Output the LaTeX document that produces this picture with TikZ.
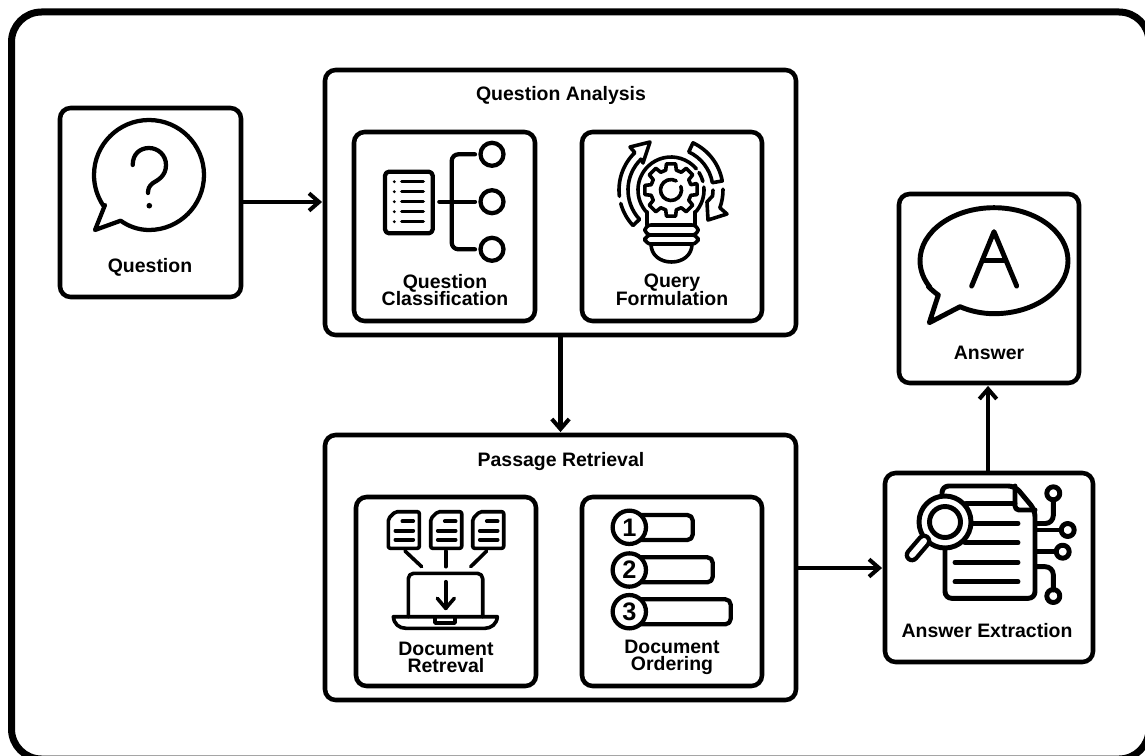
\documentclass[tikz,border=0pt]{standalone}
\usepackage{fontspec}
\setmainfont{Liberation Sans}
\usetikzlibrary{arrows.meta}
\newcommand{\tightlines}{\lineskiplimit=-20pt\relax}
\tikzset{
  x=0.75pt,y=-0.75pt,
  box/.style={draw=black,line width=3.4pt,rounded corners=8pt,fill=white,inner sep=0pt},
  frame/.style={draw=black,line width=5.25pt,rounded corners=22.5pt},
  ic/.style={draw=black,line width=3.2pt,line cap=round,line join=round},
  icn/.style={draw=black,line width=2.7pt,line cap=round,line join=round},
  ict/.style={draw=black,line width=3.7pt,line cap=round,line join=round},
  conn/.style={draw=black,line width=3.4pt,-{Straight Barb[length=7.5pt,width=13pt,line width=3pt]},shorten >=0.5pt},
  lab/.style={font=\fontsize{14.6}{13.2}\selectfont\bfseries,execute at begin node=\tightlines,align=center,inner sep=0pt,text=black},
  num/.style={font=\fontsize{19}{19}\selectfont\bfseries,inner sep=0pt,text=black},
  numc/.style={draw=black,line width=3.2pt,circle,minimum size=25pt,inner sep=0pt,fill=white,num},
}
\newcommand{\bx}[5]{\node[box,minimum width={(#4-#2)*0.75pt},minimum height={(#5-#3)*0.75pt},anchor=center] (#1) at ({(#2+#4)/2},{(#3+#5)/2}) {};}
\begin{document}
\begin{tikzpicture}
\useasboundingbox (0,0) rectangle (1145,756);
\fill[white] (0,0) rectangle (1145,756);
\draw[frame] (11.5,12) rectangle (1149,759);
% boxes
\bx{question}{60}{108}{241}{297}
\bx{analysis}{325}{70}{796}{335}
\bx{classif}{354}{132}{535}{321}
\bx{formul}{582}{132}{762}{321}
\bx{passage}{325}{435}{796}{700}
\bx{retrieve}{356}{497}{536}{686}
\bx{ordering}{582}{497}{762}{686}
\bx{answer}{899}{194}{1079}{383}
\bx{extract}{885}{473}{1093}{662}
% connectors
\draw[conn] (question.east |- 0,202) -- (analysis.west |- 0,202);
\draw[conn] (analysis.south) -- (passage.north);
\draw[conn] (passage.east |- 0,568) -- (extract.west |- 0,568);
\draw[conn] (extract.north -| 988,0) -- (answer.south -| 988,0);
% labels
\node[lab] (lq) at (150,267) {Question};
\node[lab] (lqa) at (561,95.5) {Question Analysis};
\node[lab] (lqc) at (445,290) {Question\\Classification};
\node[lab] (lqf) at (672,290) {Query\\Formulation};
\node[lab] (lpr) at (561,461.5) {Passage Retrieval};
\node[lab] (ldr) at (446,657.5) {Document\\Retreval};
\node[lab] (ldo) at (672,657.5) {Document\\Ordering};
\node[lab] (la) at (989,353) {Answer};
\node[lab] (lae) at (987,631) {Answer Extraction};
% question bubble
\draw[ic] (105,205) -- (95,230) -- (120.7,220.7) .. controls (128,226) and (138,230) .. (149,230)
  arc[start angle=90,end angle=-214,radius=55] -- cycle;
\draw[ic] (132.7,165) .. controls (132.7,154) and (140,148) .. (149,148) .. controls (158,148) and (166,155) .. (166,165)
  .. controls (166,176) and (158,180) .. (153,183) .. controls (149,186) and (148,189) .. (148,193);
\fill (149.3,205.7) circle[radius=2.8];
% classification icon
\draw[ic,rounded corners=3pt] (385,171.7) rectangle (432.7,233.3);
\foreach \yy in {181.7,191.7,201.7,211.7,221.7}{
  \draw[ict,line width=2.6pt] (401.7,\yy) -- (423.3,\yy);
  \fill (394.3,\yy) circle[radius=1.6];
}
\draw[ic] (439.3,201.7) -- (475,201.7);
\draw[ic,rounded corners=5pt] (475,154.3) -- (451.7,154.3) -- (451.7,249.3) -- (475,249.3);
\foreach \yy in {154.3,201.7,249.3}{\draw[ic] (492,\yy) circle[radius=11.5];}
% bulb icon
\begin{scope}[shift={(671,190)}]
  \draw[icn] (137:33) arc[start angle=137,end angle=320,radius=33];
  \draw[icn] (328:33) arc[start angle=328,end angle=345,radius=33];
  \draw[icn] (-5:33) arc[start angle=-5,end angle=43,radius=33];
  \draw[icn] (-24,22) -- (-24,35);
  \draw[icn] (24,22) -- (24,35);
  % gear
  \draw[icn] (-14:26.5)
    \foreach \a in {0,45,...,315}{ -- (\a-10:26.5) -- (\a+10:26.5) -- (\a+15:20.5) -- (\a+30:20.5) } -- cycle;
  \draw[icn] (-20:10.5) arc[start angle=-20,end angle=300,radius=10.5];
  % left band with arrow
  \draw[icn] (137:52) arc[start angle=137,end angle=165,radius=52];
  \draw[icn] (173:52) arc[start angle=173,end angle=226,radius=52] -- (-41,-43) -- (-21,-48) -- (-28,-27) -- (226:43);
  \draw[icn] (226:43) arc[start angle=226,end angle=137,radius=43] -- (137:52);
  % right band
  \draw[icn] (295:42) -- (295:52) arc[start angle=295,end angle=350,radius=52] -- (350:42) arc[start angle=350,end angle=295,radius=42];
  \draw[icn] (-1:52) arc[start angle=-1,end angle=20,radius=52] -- (56,24) -- (37,30) -- (36,12) -- (8:42) arc[start angle=8,end angle=0,radius=42];
\end{scope}
\draw[icn,rounded corners=4.5pt] (645,225) rectangle (698,235);
\draw[icn,rounded corners=4.5pt] (645,235) rectangle (698,244);
\draw[icn] (651,244) .. controls (651,255) and (660,262) .. (671.5,262) .. controls (683,262) and (692,255) .. (692,244);
% document retrieval icon
\foreach \xx in {388.3,430.7,472.7}{
  \begin{scope}[shift={(\xx,511.7)}]
    \draw[icn,rounded corners=1.5pt] (7,0) -- (31,0) -- (31,36.6) -- (0,36.6) -- (0,7) -- cycle;
    \draw[icn] (14,9.5) -- (25,9.5);
    \draw[icn] (7,19) -- (25,19);
    \draw[icn] (7,28) -- (25,28);
  \end{scope}
}
\draw[icn] (405,551) -- (421.7,566.7);
\draw[icn] (445.7,551) -- (445.7,566.7);
\draw[icn] (486.7,551) -- (470.7,566.7);
\draw[icn,rounded corners=4pt] (408.3,616.7) -- (408.3,573.3) -- (482.7,573.3) -- (482.7,616.7);
\draw[icn] (393.3,616.7) -- (497.3,616.7) .. controls (497,624) and (491,628.3) .. (485,628.3) -- (406,628.3) .. controls (399,628.3) and (394,624) .. (393.3,616.7) -- cycle;
\draw[icn] (435,617) -- (435,623) -- (455,623) -- (455,617);
\draw[icn] (445.7,581.7) -- (445.7,608.3);
\draw[icn] (437.3,598.3) -- (445.7,608.3) -- (454.3,598.3);
% document ordering icon
\draw[ic,rounded corners=4pt] (640,515) -- (692.7,515) -- (692.7,540) -- (640,540);
\draw[ic,rounded corners=4pt] (640,557.3) -- (712.7,557.3) -- (712.7,582.3) -- (640,582.3);
\draw[ic,rounded corners=4pt] (640,599.3) -- (730.7,599.3) -- (730.7,624.3) -- (640,624.3);
\node[numc] (n1) at (629.3,527.3) {1};
\node[numc] (n2) at (629.3,570) {2};
\node[numc] (n3) at (629.3,611.7) {3};
% answer bubble
\draw[ict] (938.3,295) -- (929.3,322.7) -- (960,306.7) .. controls (970,311) and (982,313.7) .. (994,313.7)
  arc[start angle=90,end angle=-210,x radius=74,y radius=53] .. controls (925,283) and (931,290) .. (938.3,295);
\draw[ict] (971.7,286) -- (994,231.7) -- (1016.7,286);
\draw[ict] (982.5,260.7) -- (1005.5,260.7);
% extraction icon
\draw[ict,rounded corners=5pt] (942,495) -- (942,486) -- (1015,486) -- (1035,510) -- (1035,598.3) -- (945,598.3) -- (945,544);
\draw[ict,rounded corners=3pt] (1015,486) -- (1015,510) -- (1035,510);
\draw[ict] (966,503.3) -- (1015,503.3);
\draw[ict] (973,523.3) -- (1018,523.3);
\draw[ict] (965,542.7) -- (1018,542.7);
\draw[ict] (955,562.3) -- (1018,562.3);
\draw[ict] (955,581.7) -- (1018,581.7);
\draw[ict,fill=white] (945,522) circle[radius=26];
\draw[ict] (945,522) circle[radius=15.5];
\draw[draw=black,line width=11pt,line cap=round] (924,541) -- (912,555);
\draw[draw=white,line width=4.5pt,line cap=round] (924,541) -- (912,555);
\draw[ict,rounded corners=6pt] (1036.7,523.5) -- (1053.3,523.5) -- (1053.3,500);
\draw[ict] (1053.3,493.3) circle[radius=6.5];
\draw[ict] (1036.7,530) -- (1060,530);
\draw[ict] (1067.7,530) circle[radius=6.5];
\draw[ict] (1036.7,551.7) -- (1055,551.7);
\draw[ict] (1062.7,551.7) circle[radius=6.5];
\draw[ict,rounded corners=6pt] (1036.7,566.7) -- (1053.3,566.7) -- (1053.3,590);
\draw[ict] (1053.3,596) circle[radius=6.5];
\end{tikzpicture}
\end{document}
